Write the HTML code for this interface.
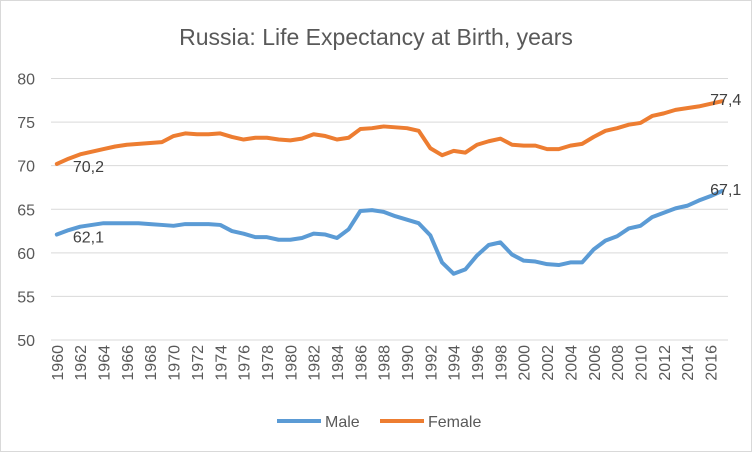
<!DOCTYPE html>
<html><head><meta charset="utf-8"><style>
body{margin:0;background:#fff;}
svg{display:block;font-family:"Liberation Sans",sans-serif;}
</style></head><body>
<svg id="chart" width="752" height="452">
<rect x="0.5" y="0.5" width="751" height="451" fill="#fff" stroke="#d9d9d9"/>
<text x="376" y="45" text-anchor="middle" font-size="23" fill="#595959">Russia: Life Expectancy at Birth, years</text>
<g id="grid"></g><g id="yticks"></g><g id="xticks"></g><g id="series"></g><g id="labels"></g>
<g>
<line x1="277" y1="421" x2="321" y2="421" stroke="#5b9bd5" stroke-width="4"/>
<text x="325" y="427" font-size="16" fill="#595959">Male</text>
<line x1="380" y1="421" x2="424" y2="421" stroke="#ed7d31" stroke-width="4"/>
<text x="428" y="427" font-size="16" fill="#595959">Female</text>
</g>
</svg>
<script>
const years=[];for(let y=1960;y<=2017;y++)years.push(y);
const male=[62.1,62.6,63.0,63.2,63.4,63.4,63.4,63.4,63.3,63.2,63.1,63.3,63.3,63.3,63.2,62.5,62.2,61.8,61.8,61.5,61.5,61.7,62.2,62.1,61.7,62.7,64.8,64.9,64.7,64.2,63.8,63.4,62.0,58.9,57.6,58.1,59.7,60.9,61.2,59.8,59.1,59.0,58.7,58.6,58.9,58.9,60.4,61.4,61.9,62.8,63.1,64.1,64.6,65.1,65.4,66.0,66.5,67.1];
const female=[70.2,70.8,71.3,71.6,71.9,72.2,72.4,72.5,72.6,72.7,73.4,73.7,73.6,73.6,73.7,73.3,73.0,73.2,73.2,73.0,72.9,73.1,73.6,73.4,73.0,73.2,74.2,74.3,74.5,74.4,74.3,74.0,72.0,71.2,71.7,71.5,72.4,72.8,73.1,72.4,72.3,72.3,71.9,71.9,72.3,72.5,73.3,74.0,74.3,74.7,74.9,75.7,76.0,76.4,76.6,76.8,77.1,77.4];
const yTicks=[50,55,60,65,70,75,80];
const NS='http://www.w3.org/2000/svg';
const L=51,R=728,T=78.5,B=340,yMin=50,yMax=80;
const bw=(R-L)/years.length;
const xs=i=>L+bw*(i+0.5);
const ys=v=>B-(v-yMin)/(yMax-yMin)*(B-T);
function mk(tag,attrs,parent){const e=document.createElementNS(NS,tag);for(const k in attrs)e.setAttribute(k,attrs[k]);document.getElementById(parent).appendChild(e);return e;}
yTicks.forEach(t=>{
 const g=mk('line',{x1:L,x2:R,y1:ys(t),y2:ys(t),stroke:'#d9d9d9','stroke-width':1},'grid');
 
 
 const tx=mk('text',{x:35,y:ys(t)+6,'text-anchor':'end','font-size':16,fill:'#595959'},'yticks');
 tx.textContent=t;
 
 
});
years.forEach((y,i)=>{
 if(i%2)return;
 const x=xs(i)+6,yy=345;
 const tx=mk('text',{x:x,y:yy,'text-anchor':'end','font-size':16,fill:'#595959',transform:`rotate(-90 ${x} ${yy})`},'xticks');
 tx.textContent=y;
 
 
});
function line(arr,color,name){
 const p=mk('polyline',{points:arr.map((v,i)=>xs(i)+','+ys(v)).join(' '),fill:'none',stroke:color,'stroke-width':4,'stroke-linejoin':'round','stroke-linecap':'round'},'series');
 
 
}
line(male,'#5b9bd5','male-line');
line(female,'#ed7d31','female-line');
function lab(txt,x,y,name){const t=mk('text',{x:x,y:y,'font-size':16,fill:'#404040'},'labels');t.textContent=txt;
 
 }
const n=years.length-1;
lab(String(female[0]).replace('.',','),xs(0)+16,ys(female[0])+8,'female-start-label');
lab(String(male[0]).replace('.',','),xs(0)+16,ys(male[0])+8,'male-start-label');
lab(String(female[n]).replace('.',','),xs(n)-12,ys(female[n])+4,'female-end-label');
lab(String(male[n]).replace('.',','),xs(n)-12,ys(male[n])+4,'male-end-label');
</script>
</body></html>
